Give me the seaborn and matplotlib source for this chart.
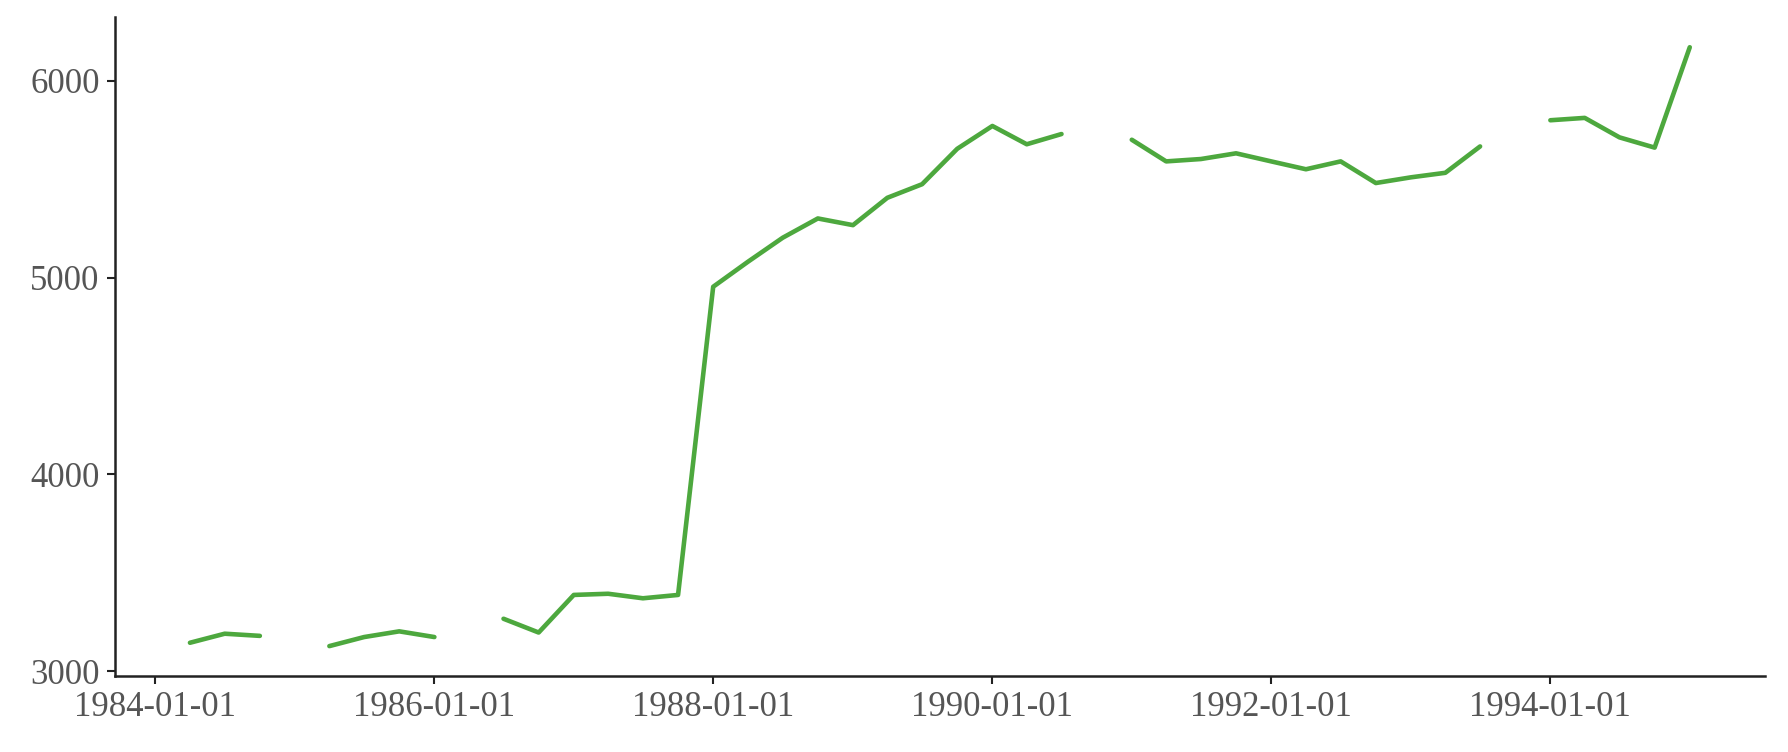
import numpy as np
import pandas as pd
import matplotlib
matplotlib.use("Agg")
import matplotlib.pyplot as plt
import seaborn as sns

# Quarterly dates from 1984-04-01 to 1995-01-01
dates = pd.date_range("1984-04-01", "1995-01-01", freq="QS")
values = [
    3145, 3191, 3180, np.nan,          # 1984-04 .. 1985-01
    3128, 3174, 3203, 3174,            # 1985-04 .. 1986-01
    np.nan, 3267, 3197, 3388,          # 1986-04 .. 1987-01
    3394, 3371, 3388, 4954,            # 1987-04 .. 1988-01
    5081, 5203, 5301, 5267,            # 1988-04 .. 1989-01
    5406, 5475, 5655, 5771,            # 1989-04 .. 1990-01
    5678, 5730, np.nan, 5701,          # 1990-04 .. 1991-01
    5591, 5603, 5632, 5591,            # 1991-04 .. 1992-01
    5551, 5591, 5481, 5510,            # 1992-04 .. 1993-01
    5533, 5667, np.nan, 5800,          # 1993-04 .. 1994-01
    5812, 5713, 5661, 6171,            # 1994-04 .. 1995-01
]
tick_labels = ["1984-01-01", "1986-01-01", "1988-01-01",
               "1990-01-01", "1992-01-01", "1994-01-01"]
ytick_values = [3000, 4000, 5000, 6000]

df = pd.DataFrame({"date": dates, "value": values})

sns.set_theme(style="ticks")
plt.rcParams["font.family"] = ["Liberation Serif", "DejaVu Serif"]

fig = plt.figure(figsize=(17.88, 7.52), dpi=100)
ax = fig.add_axes([0.0643, 0.101, 0.9227, 0.876])

ax.plot(df["date"], df["value"], color="#4da83e", linewidth=3.3)

ax.set_xticks(pd.to_datetime(tick_labels))
ax.set_xticklabels(tick_labels)
ax.set_yticks(ytick_values)
ax.set_yticklabels([str(v) for v in ytick_values])
ax.tick_params(axis="both", labelsize=25, labelcolor="#555555", color="#222222",
               length=6, width=1.5, pad=5)
for s in ["left", "bottom"]:
    ax.spines[s].set_color("#222222")
    ax.spines[s].set_linewidth(1.8)
sns.despine(ax=ax)
ax.set_xlabel("")
ax.set_ylabel("")

fig.savefig("out.png", dpi=100)
